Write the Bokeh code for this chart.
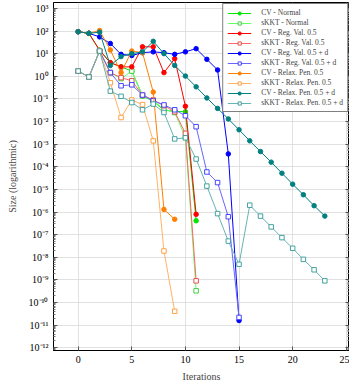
from bokeh.plotting import figure
from bokeh.models import Range1d, FixedTicker, CustomJSTickFormatter, LogAxis, Legend, LegendItem
from bokeh.embed import file_html
from bokeh.resources import INLINE

# ---- data (Size per iteration) ----
cv_normal = [93, 79, 14, 4.0, 2.6, 1.7, 0.135, 0.079, 0.032, 0.028, 0.027, 4.1e-7]
skkt_normal = [1.7, 0.93, 13, 1.45, 0.79, 1.7, 0.135, 0.083, 0.035, 0.025, 2.0e-3, 3.3e-10]
cv_reg = [93, 79, 14, 4.0, 2.6, 2.6, 20, 20, 1.45, 6.0, 0.047, 7.9e-7]
skkt_reg = [1.7, 0.93, 13, 1.45, 0.87, 0.63, 0.148, 0.089, 0.05, 0.027, 3.0e-3, 9.1e-10]
cv_reg_d = [93, 79, 55, 28, 9.3, 8.3, 11, 12, 11, 9.3, 12, 16.6, 5.6, 1.9, 3.7e-4, 1.6e-11]
skkt_reg_d = [1.7, 0.93, 13, 1.45, 0.38, 0.42, 0.148, 0.083, 0.054, 0.033, 0.018, 5.9e-3,
              5.9e-5, 2.0e-5, 6.2e-7, 2.2e-11]
cv_relax = [93, 79, 105, 14.5, 1.45, 13, 11, 0.2, 1.3e-6, 4.8e-7]
skkt_relax = [1.7, 0.93, 13, 0.52, 0.015, 0.089, 0.056, 1.4e-3, 1.9e-8, 4.1e-11]
cv_relax_d = [93, 79, 89, 3.0, 7.4, 10, 12, 35, 10, 3.0, 1.02, 0.34, 0.11, 0.038, 0.013,
              4.3e-3, 1.4e-3, 4.7e-4, 1.6e-4, 5.2e-5, 1.7e-5, 5.8e-6, 1.9e-6, 6.6e-7]
skkt_relax_d = [1.7, 0.93, 13, 0.22, 0.13, 0.069, 0.033, 0.059, 0.025, 1.7e-3, 1.9e-3, 2.2e-4,
                1.4e-5, 8.5e-7, 5.2e-8, 4.9e-9, 2.0e-6, 6.6e-7, 2.2e-7, 7.4e-8, 2.5e-8,
                8.1e-9, 2.8e-9, 9.1e-10]

labels = ["CV - Normal", "sKKT - Normal", "CV - Reg. Val. 0.5", "sKKT - Reg. Val. 0.5",
          "CV - Reg. Val. 0.5 + d", "sKKT - Reg. Val. 0.5 + d", "CV - Relax. Pen. 0.5",
          "sKKT - Relax. Pen. 0.5", "CV - Relax. Pen. 0.5 + d", "sKKT - Relax. Pen. 0.5 + d"]
series = [cv_normal, skkt_normal, cv_reg, skkt_reg, cv_reg_d, skkt_reg_d,
          cv_relax, skkt_relax, cv_relax_d, skkt_relax_d]
colors = ["#00e600", "#66ff66", "#ff0000", "#ff6666", "#0000ff", "#6666ff",
          "#ff8000", "#ffb366", "#008080", "#66b3b3"]
marker_edge = ["#00e600", "#33cc33", "#ff0000", "#e04040", "#0000ff", "#3333ff",
               "#ff8000", "#ff9933", "#008080", "#339999"]

x_ticks = [0, 5, 10, 15, 20, 25]
y_exponents = list(range(-12, 4))

FONT = "Liberation Serif"

p = figure(frame_width=296, frame_height=348, y_axis_type="log",
           x_range=Range1d(-2.3, 25.3), y_range=Range1d(10 ** -12.12, 10 ** 3.26),
           output_backend="svg", toolbar_location=None,
           min_border_left=53, min_border_right=0, min_border_top=2, min_border_bottom=0)
p.background_fill_color = "white"
p.outline_line_color = "black"
p.outline_line_width = 1

major_y = [10.0 ** e for e in y_exponents]
minor_y = [m * 10.0 ** e for e in range(-13, 4) for m in range(2, 10)]
yt = FixedTicker(ticks=major_y, minor_ticks=minor_y)
xt = FixedTicker(ticks=x_ticks, minor_ticks=[])

sup_js = """
const sup = {'-':'\u207b','0':'\u2070','1':'\u00b9','2':'\u00b2','3':'\u00b3','4':'\u2074',
             '5':'\u2075','6':'\u2076','7':'\u2077','8':'\u2078','9':'\u2079'};
const e = Math.round(Math.log10(tick));
return '10' + String(e).split('').map(c => sup[c]).join('');
"""

ya = p.yaxis[0]
ya.ticker = yt
ya.formatter = CustomJSTickFormatter(code=sup_js)
xa = p.xaxis[0]
xa.ticker = xt

for ax in (xa, ya):
    ax.major_tick_in = 4
    ax.major_tick_out = 0
    ax.minor_tick_in = 2
    ax.minor_tick_out = 0
    ax.axis_line_color = "black"
    ax.major_tick_line_color = "#555555"
    ax.minor_tick_line_color = "#777777"
    ax.major_label_text_font = FONT
    ax.major_label_text_font_size = "10px"
    ax.major_label_text_color = "black"
    ax.axis_label_text_font = FONT
    ax.axis_label_text_font_size = "10px"
    ax.axis_label_text_font_style = "normal"
    ax.major_label_standoff = 5

xa.axis_label = "Iterations"
ya.axis_label = "Size (logarithmic)"
ya.axis_label_standoff = 8
xa.axis_label_standoff = 5

blank = CustomJSTickFormatter(code="return '';")
ra = LogAxis(ticker=FixedTicker(ticks=major_y, minor_ticks=minor_y), formatter=blank)
ra.major_tick_in = 4
ra.major_tick_out = 0
ra.minor_tick_in = 2
ra.minor_tick_out = 0
ra.major_label_text_font_size = "1px"
ra.major_label_standoff = 0
ra.major_tick_line_color = "#555555"
ra.minor_tick_line_color = "#777777"
p.add_layout(ra, "right")

p.xgrid.grid_line_color = "#d9d9d9"
p.ygrid.grid_line_color = "#d9d9d9"
p.xgrid.grid_line_width = 0.8
p.ygrid.grid_line_width = 0.8

items = []
for i, (lab, ys, c, mc) in enumerate(zip(labels, series, colors, marker_edge)):
    xs = list(range(len(ys)))
    r1 = p.line(xs, ys, line_color=c, line_width=1)
    if i % 2 == 0:
        r2 = p.scatter(xs, ys, marker="circle", size=4.5, fill_color=c, line_color=c)
    else:
        r2 = p.scatter(xs, ys, marker="square", size=4.5, fill_color="white",
                       line_color=mc, line_width=0.9)
    items.append(LegendItem(label=lab, renderers=[r1, r2]))

legend = Legend(items=items, location="top_right")
legend.label_text_font = FONT
legend.label_text_font_size = "7.5px"
legend.glyph_width = 24
legend.glyph_height = 8
legend.label_height = 8
legend.label_standoff = 10
legend.spacing = 1
legend.padding = 4
legend.margin = 1
legend.border_line_color = "black"
legend.border_line_width = 0.8
legend.background_fill_alpha = 1
p.add_layout(legend)

open("out.html", "w").write(file_html(p, INLINE))
